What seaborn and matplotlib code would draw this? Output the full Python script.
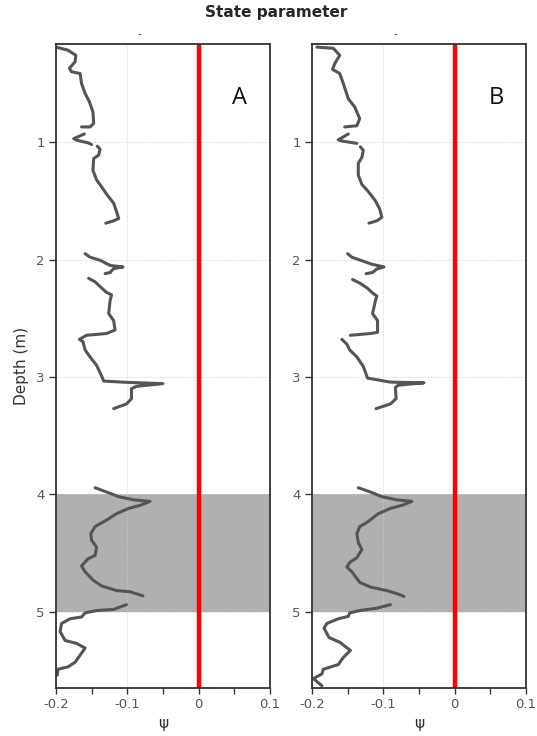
import numpy as np
import pandas as pd
import matplotlib
matplotlib.use("Agg")
import matplotlib.pyplot as plt
import seaborn as sns

nan = np.nan

# Profil A (psi, Tiefe) - nan trennt Abschnitte
psi_a = [-0.200, -0.183, -0.172, -0.173, -0.181, -0.178, -0.166, -0.164, -0.159, -0.153, -0.148, -0.147, -0.152, -0.164, nan,
         -0.160, -0.175, -0.171, -0.155, -0.150, nan,
         -0.142, -0.138, -0.140, -0.147, -0.148, -0.143, -0.136, -0.128, -0.119, -0.115, -0.112, -0.119, -0.130, nan,
         -0.159, -0.152, -0.138, -0.124, -0.106, -0.119, -0.124, -0.131, nan,
         -0.154, -0.145, -0.138, -0.129, -0.122, -0.124, -0.126, -0.119, -0.117, -0.129, -0.157, -0.167, -0.162, -0.159,
         -0.152, -0.143, -0.136, -0.133, -0.101, -0.050, -0.087, -0.094, -0.094, -0.101, -0.119, nan,
         -0.145, -0.129, -0.112, -0.091, -0.068, -0.082, -0.098, -0.115, -0.129, -0.138, -0.145, -0.151, -0.150, -0.143,
         -0.145, -0.155, -0.164, -0.159, -0.148, -0.136, -0.115, -0.096, -0.078, nan,
         -0.101, -0.119, -0.143, -0.159, -0.164, -0.180, -0.192, -0.194, -0.187, -0.171, -0.159, -0.166, -0.173, -0.183,
         -0.197, -0.198]
depth_a = [0.19, 0.216, 0.26, 0.315, 0.37, 0.40, 0.415, 0.50, 0.585, 0.656, 0.742, 0.84, 0.87, 0.87, nan,
           0.93, 0.97, 0.983, 1.005, 1.02, nan,
           1.034, 1.06, 1.11, 1.14, 1.24, 1.32, 1.38, 1.45, 1.52, 1.59, 1.65, 1.67, 1.69, nan,
           1.95, 1.98, 2.006, 2.05, 2.063, 2.077, 2.11, 2.12, nan,
           2.16, 2.19, 2.23, 2.28, 2.30, 2.35, 2.46, 2.52, 2.60, 2.63, 2.645, 2.68, 2.70, 2.77,
           2.83, 2.90, 2.99, 3.035, 3.046, 3.057, 3.08, 3.10, 3.185, 3.23, 3.27, nan,
           3.944, 3.98, 4.02, 4.047, 4.06, 4.094, 4.12, 4.165, 4.22, 4.25, 4.275, 4.335, 4.39, 4.45,
           4.52, 4.55, 4.61, 4.66, 4.73, 4.78, 4.82, 4.83, 4.865, nan,
           4.94, 4.98, 4.99, 5.01, 5.045, 5.06, 5.10, 5.17, 5.245, 5.27, 5.31, 5.37, 5.43, 5.47,
           5.49, 5.54]

# Profil B
psi_b = [-0.193, -0.170, -0.161, -0.168, -0.171, -0.161, -0.156, -0.149, -0.140, -0.133, -0.137, -0.154, nan,
         -0.149, -0.163, -0.158, -0.137, nan,
         -0.132, -0.128, -0.130, -0.135, -0.135, -0.130, -0.121, -0.111, -0.105, -0.102, -0.109, -0.120, nan,
         -0.150, -0.144, -0.130, -0.116, -0.099, -0.109, -0.115, -0.124, nan,
         -0.143, -0.133, -0.123, -0.114, -0.109, -0.111, -0.115, -0.108, -0.108, -0.118, -0.146, nan,
         -0.158, -0.151, -0.147, -0.137, -0.128, -0.122, -0.090, -0.043, -0.079, -0.083, -0.082, -0.090, -0.110, nan,
         -0.135, -0.118, -0.102, -0.081, -0.060, -0.072, -0.090, -0.107, -0.123, -0.133, -0.137, -0.135, -0.130, -0.137,
         -0.147, -0.151, -0.144, -0.133, -0.118, -0.095, -0.079, -0.071, nan,
         -0.090, -0.109, -0.133, -0.147, -0.149, -0.163, -0.179, -0.183, -0.176, -0.161, -0.146, -0.156, -0.163, -0.184,
         -0.186, -0.198, -0.186]
depth_b = [0.19, 0.20, 0.26, 0.33, 0.38, 0.415, 0.50, 0.63, 0.70, 0.80, 0.86, 0.87, nan,
           0.93, 0.98, 0.99, 1.01, nan,
           1.04, 1.07, 1.13, 1.18, 1.28, 1.36, 1.42, 1.50, 1.57, 1.64, 1.67, 1.69, nan,
           1.95, 1.98, 2.01, 2.04, 2.063, 2.08, 2.11, 2.12, nan,
           2.17, 2.20, 2.24, 2.29, 2.31, 2.35, 2.46, 2.52, 2.62, 2.63, 2.645, nan,
           2.68, 2.72, 2.77, 2.83, 2.91, 3.01, 3.044, 3.05, 3.07, 3.09, 3.185, 3.23, 3.27, nan,
           3.944, 3.98, 4.02, 4.047, 4.06, 4.09, 4.12, 4.165, 4.24, 4.275, 4.335, 4.41, 4.47, 4.54,
           4.58, 4.62, 4.66, 4.75, 4.79, 4.82, 4.85, 4.87, nan,
           4.94, 4.97, 4.99, 5.01, 5.04, 5.06, 5.10, 5.14, 5.22, 5.26, 5.33, 5.39, 5.45, 5.49,
           5.53, 5.57, 5.63]

panel_labels = ["A", "B"]
layer_top, layer_bottom = 4.0, 5.0
x_ticks = [-0.2, -0.1, 0, 0.1]
x_tick_labels = ["-0.2", "-0.1", "0", "0.1"]
y_ticks = [1, 2, 3, 4, 5]


def to_df(psi, depth):
    df = pd.DataFrame({"psi": psi, "depth": depth})
    df["seg"] = df["psi"].isna().cumsum()
    return df.dropna()


sns.set_style("white")
plt.rcParams["font.family"] = ["DejaVu Sans"]

fig, axes = plt.subplots(1, 2, figsize=(5.37, 7.36), dpi=100)
fig.subplots_adjust(left=0.104, right=0.9795, bottom=0.0652, top=0.940, wspace=0.196)

for ax, (psi, depth), lab in zip(axes, [(psi_a, depth_a), (psi_b, depth_b)], panel_labels):
    df = to_df(psi, depth)
    ax.axhspan(layer_top, layer_bottom, color="#b0b0b0", zorder=0.2, lw=0)
    ax.grid(True, color="#d0d0d0", lw=0.7, ls=":")
    ax.set_axisbelow(True)
    ax.axvline(0, color="#ff0000", lw=3.2, zorder=3)
    sns.lineplot(data=df, x="psi", y="depth", units="seg", estimator=None, sort=False,
                 color="#555555", lw=2.2, ax=ax, zorder=4, legend=False)
    ax.set_xlim(-0.2, 0.1)
    ax.set_ylim(5.65, 0.165)
    ax.set_xticks(x_ticks)
    ax.set_xticklabels(x_tick_labels)
    ax.set_xticks([-0.15, -0.05, 0.05], minor=True)
    ax.set_yticks(y_ticks)
    ax.tick_params(axis="both", which="both", direction="out", colors="#333333",
                   labelcolor="#555555", labelsize=9.5, width=1.0)
    ax.tick_params(axis="x", which="both", length=4, bottom=True)
    ax.tick_params(axis="y", length=5, left=True, pad=3)
    for sp in ax.spines.values():
        sp.set_color("#333333")
        sp.set_linewidth(1.3)
        sp.set_zorder(5)
    ax.set_xlabel("\u03c8", fontsize=11, color="#333333", labelpad=3)
    ax.set_ylabel("")
    ax.text(0.058, 0.625, lab, fontsize=17, family="Open Sans", ha="center", va="center", color="#111111")
    ax.text(0.39, 1.008, "-", transform=ax.transAxes, fontsize=7, ha="center", va="bottom", color="#333333")

axes[0].set_ylabel("Depth (m)", fontsize=11, color="#333333", labelpad=5)
fig.suptitle("State parameter", fontsize=11, fontweight="bold", x=0.515, y=0.993, va="top")

plt.savefig("out.png", dpi=100)
plt.close()
